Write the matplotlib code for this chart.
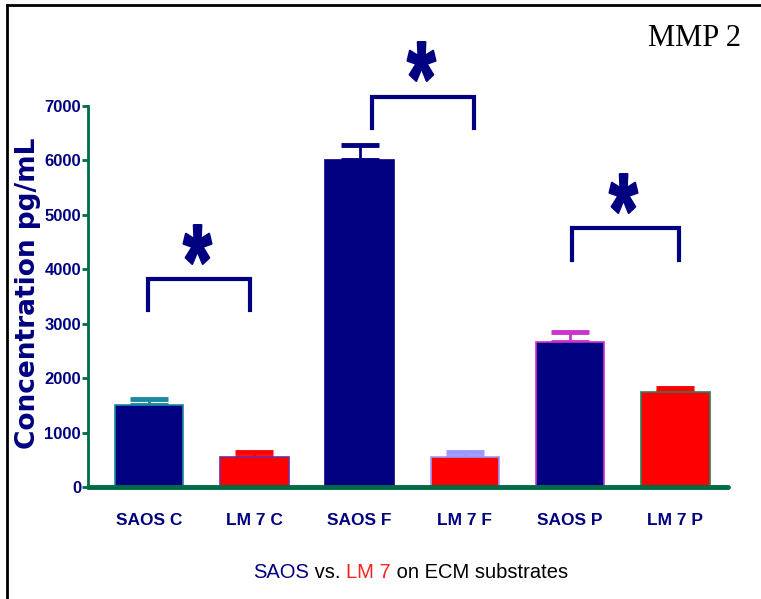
import matplotlib
matplotlib.use("Agg")
import matplotlib.pyplot as plt
import numpy as np
from matplotlib.lines import Line2D
from matplotlib.path import Path
from matplotlib.textpath import TextPath
from matplotlib.font_manager import FontProperties

# data
groups = ['SAOS C', 'LM 7 C', 'SAOS F', 'LM 7 F', 'SAOS P', 'LM 7 P']
means = [1510, 560, 6000, 560, 2660, 1750]
errors = [100, 80, 290, 80, 180, 70]
bar_colors = ['#000080', '#ff0000', '#000080', '#ff0000', '#000080', '#ff0000']
edge_colors = ['#1a8aa0', '#7a2a9a', '#000080', '#9999ff', '#cc33cc', '#2e7d5a']
err_colors = ['#1a8aa0', '#ff0000', '#000080', '#9999ff', '#cc33cc', '#ff0000']

# significance brackets: (left bar, right bar), bracket top, leg bottom
pairs = [(0, 1), (2, 3), (4, 5)]
bracket_tops = [3820, 7170, 4760]
bracket_legs = [3250, 6600, 4170]

navy = '#000080'
green = '#006b45'
sans = ['Liberation Sans', 'DejaVu Sans']

W, H = 761, 599
fig = plt.figure(figsize=(W / 100, H / 100), dpi=100)
ax = fig.add_axes([88 / W, 1 - 487 / H, (728 - 88) / W, (487 - 106) / H])

x = list(range(len(groups)))
ax.bar(x, means, width=0.65, color=bar_colors, edgecolor=edge_colors,
       linewidth=1.2, zorder=2)
for i in x:
    ax.errorbar(i, means[i], yerr=[[0], [errors[i]]], fmt='none',
                ecolor=err_colors[i], elinewidth=2, capsize=14, capthick=3.5,
                zorder=1)

ax.set_xlim(-0.58, 5.5)
ax.set_ylim(0, 7000)
ax.set_yticks(range(0, 7001, 1000))
ax.set_xticks(x)
ax.set_xticklabels(groups)

for s in ['top', 'right']:
    ax.spines[s].set_visible(False)
ax.spines['left'].set_color(green)
ax.spines['left'].set_linewidth(2)
ax.spines['bottom'].set_color(green)
ax.spines['bottom'].set_linewidth(3.5)
ax.spines['bottom'].set_capstyle('round')
ax.tick_params(axis='y', colors=green, width=2, length=4, pad=1)
ax.tick_params(axis='x', length=0, pad=19)
for lab in ax.get_yticklabels():
    lab.set_color(navy)
    lab.set_fontweight('bold')
    lab.set_family(sans)
    lab.set_fontsize(12)
for lab in ax.get_xticklabels():
    lab.set_color(navy)
    lab.set_fontweight('bold')
    lab.set_family(sans)
    lab.set_fontsize(12.5)

# asterisk marker, centred and a bit taller than wide
tp = TextPath((0, 0), '*', prop=FontProperties(family=sans, weight='bold'))
v = tp.vertices.copy()
real = tp.codes != Path.CLOSEPOLY
lo, hi = v[real].min(axis=0), v[real].max(axis=0)
v -= (lo + hi) / 2
w, h = hi - lo
v[:, 0] *= 0.72 * h / w
v[~real] = v[real][0]
star = Path(v, tp.codes)

offsets = [(-0.01, -0.04), (0.12, 0.09), (0.02, 0.03)]
for (a, b), top, leg, off in zip(pairs, bracket_tops, bracket_legs, offsets):
    xl, xr = a + off[0], b + off[1]
    ax.plot([xl, xl, xr, xr], [leg, top, top, leg], color=navy, lw=3,
            clip_on=False, solid_joinstyle='miter')
    ax.plot((xl + xr) / 2 - 0.02, top + 650, marker=star, ms=28,
            color=navy, mew=1.5, clip_on=False)

fig.text(28 / W, 1 - 293 / H, 'Concentration pg/mL', rotation=90,
         color=navy, fontsize=19, fontweight='bold', ha='center', va='center',
         family=['DejaVu Sans'])

fig.text(694 / W, 1 - 38 / H, 'MMP 2', fontsize=22, ha='center', va='center',
         family=['Liberation Serif', 'DejaVu Serif'])

# coloured x label, pieces chained one after another
parts = [('SAOS', navy), (' vs. ', 'black'), ('LM 7', '#ff2020'),
         (' on ECM substrates', 'black')]
prev = fig.text(253 / W, 1 - 572 / H, parts[0][0], color=parts[0][1],
                fontsize=14.5, va='center', family=sans)
for txt, col in parts[1:]:
    prev = ax.annotate(txt, xy=(1, 0.5), xycoords=prev, va='center',
                       ha='left', color=col, fontsize=14.5,
                       annotation_clip=False, family=sans)

# frame lines (top and left only)
fig.add_artist(Line2D([7 / W, 1], [1 - 5 / H, 1 - 5 / H], color='black', lw=2))
fig.add_artist(Line2D([7 / W, 7 / W], [0, 1 - 5 / H], color='black', lw=2))

fig.savefig('out.png', dpi=100)
